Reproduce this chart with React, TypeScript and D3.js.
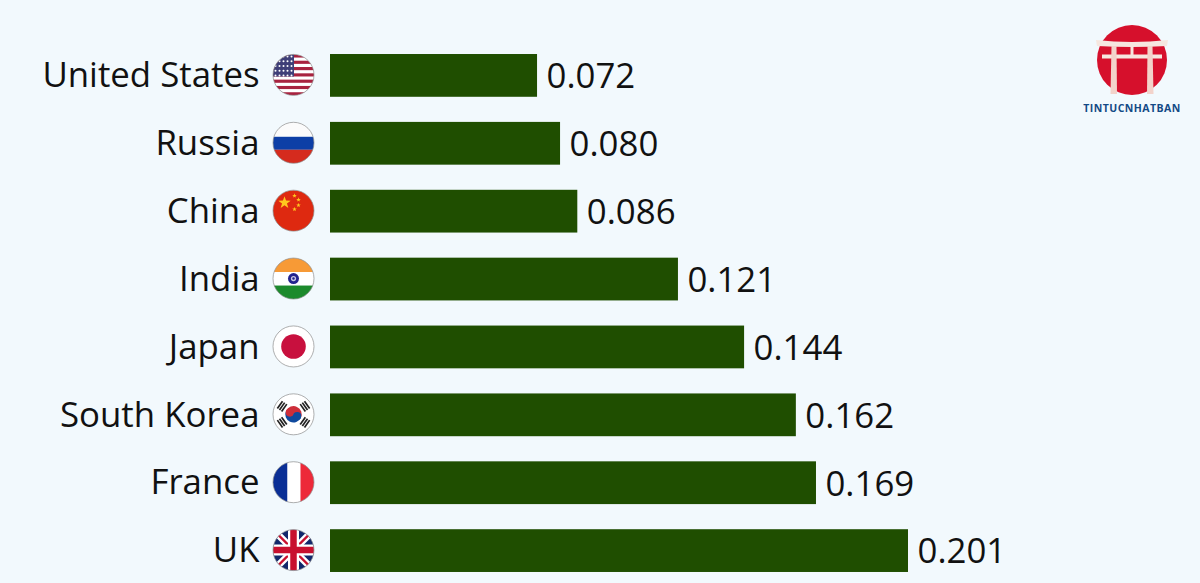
import React from 'react';
import * as d3 from 'd3';

const countries = ['United States', 'Russia', 'China', 'India', 'Japan', 'South Korea', 'France', 'UK'];
const values = [0.072, 0.08, 0.086, 0.121, 0.144, 0.162, 0.169, 0.201];
const flagCodes = ['us', 'ru', 'cn', 'in', 'jp', 'kr', 'fr', 'uk'];

const width = 1200;
const height = 583;
const barLeft = 330;
const flagR = 20.5;
const flagX = 293.5;
const step = 67.8;

const x = d3.scaleLinear().domain([0, 0.201]).range([barLeft, 908]);
const y = d3.scaleBand<string>().domain(countries).range([54 - 0.18 * step, 54 - 0.18 * step + step * 8]).paddingInner(0.37).paddingOuter(0.18);

const fmt = d3.format('.3f');
const FONT = '"Open Sans", sans-serif';

const star = (cx: number, cy: number, r: number, rot = 0) => {
  const pts: string[] = [];
  for (let i = 0; i < 10; i++) {
    const rad = i % 2 === 0 ? r : r * 0.4;
    const a = -Math.PI / 2 + rot + (i * Math.PI) / 5;
    pts.push(`${cx + rad * Math.cos(a)},${cy + rad * Math.sin(a)}`);
  }
  return pts.join(' ');
};

// flags are drawn in a box of -20.5..20.5 and clipped to a circle
const Flag: React.FC<{ code: string }> = ({ code }) => {
  const r = flagR;
  if (code === 'us') {
    const rows = d3.range(13);
    const sh = (2 * r) / 13;
    return (
      <g>
        <rect x={-r} y={-r} width={2 * r} height={2 * r} fill="#fff" />
        {rows.filter(i => i % 2 === 0).map(i => (
          <rect key={i} x={-r} y={-r + i * sh} width={2 * r} height={sh} fill="#a8223f" />
        ))}
        <rect x={-r} y={-r} width={21} height={7 * sh} fill="#3f3f78" />
        {d3.range(5).flatMap(a => d3.range(5).map(b => (
          <circle key={`${a}-${b}`} cx={-r + 2.5 + b * 4} cy={-r + 2 + a * 4.8} r={1} fill="#fff" />
        )))}
      </g>
    );
  }
  if (code === 'ru') {
    return (
      <g>
        <rect x={-r} y={-r} width={2 * r} height={14.5} fill="#fbfbfb" />
        <rect x={-r} y={-6} width={2 * r} height={13} fill="#0d3fa6" />
        <rect x={-r} y={7} width={2 * r} height={14} fill="#d52b1e" />
      </g>
    );
  }
  if (code === 'cn') {
    return (
      <g>
        <rect x={-r} y={-r} width={2 * r} height={2 * r} fill="#de2910" />
        <polygon points={star(-9, -8, 6.5)} fill="#ffc81e" />
        <polygon points={star(1, -15, 2.4)} fill="#ffc81e" />
        <polygon points={star(5, -11, 2.4)} fill="#ffc81e" />
        <polygon points={star(5, -5.5, 2.4)} fill="#ffc81e" />
        <polygon points={star(1, -1.5, 2.4)} fill="#ffc81e" />
      </g>
    );
  }
  if (code === 'in') {
    return (
      <g>
        <rect x={-r} y={-r} width={2 * r} height={14} fill="#f79a36" />
        <rect x={-r} y={-6.5} width={2 * r} height={13.5} fill="#fff" />
        <rect x={-r} y={7} width={2 * r} height={14} fill="#1c8a2c" />
        <circle r={5.5} fill="#23238e" />
        <circle r={2.6} fill="#fff" opacity={0.75} />
        <circle r={1.2} fill="#23238e" />
      </g>
    );
  }
  if (code === 'jp') {
    return (
      <g>
        <rect x={-r} y={-r} width={2 * r} height={2 * r} fill="#fff" />
        <circle r={12.3} fill="#c8103e" />
      </g>
    );
  }
  if (code === 'kr') {
    const angles = [-55, 55, 125, 235];
    return (
      <g>
        <rect x={-r} y={-r} width={2 * r} height={2 * r} fill="#fff" />
        <path d="M-8.2,0 A8.2,8.2 0 0 1 8.2,0 Z" fill="#cd2e3a" transform="rotate(25)" />
        <path d="M-8.2,0 A8.2,8.2 0 0 0 8.2,0 Z" fill="#0f4a9e" transform="rotate(25)" />
        <circle r={4.1} cx={-3.7} cy={-1.7} fill="#cd2e3a" />
        <circle r={4.1} cx={3.7} cy={1.7} fill="#0f4a9e" />
        {angles.map(a => (
          <g key={a} transform={`rotate(${a}) translate(0,-14)`} fill="#222">
            <rect x={-4.5} y={-3.4} width={9} height={1.7} />
            <rect x={-4.5} y={-0.8} width={9} height={1.7} />
            <rect x={-4.5} y={1.8} width={9} height={1.7} />
          </g>
        ))}
      </g>
    );
  }
  if (code === 'fr') {
    return (
      <g>
        <rect x={-r} y={-r} width={14.5} height={2 * r} fill="#0a2f96" />
        <rect x={-6} y={-r} width={13} height={2 * r} fill="#fff" />
        <rect x={7} y={-r} width={14} height={2 * r} fill="#ed2939" />
      </g>
    );
  }
  // uk
  return (
    <g>
      <rect x={-r} y={-r} width={2 * r} height={2 * r} fill="#12286b" />
      <path d={`M${-r},${-r}L${r},${r}M${r},${-r}L${-r},${r}`} stroke="#fff" strokeWidth={7} />
      <path d={`M${-r},${-r}L${r},${r}M${r},${-r}L${-r},${r}`} stroke="#c8102e" strokeWidth={2.4} />
      <path d={`M0,${-r}V${r}M${-r},0H${r}`} stroke="#fff" strokeWidth={11} />
      <path d={`M0,${-r}V${r}M${-r},0H${r}`} stroke="#c8102e" strokeWidth={6.5} />
    </g>
  );
};

const Logo: React.FC = () => (
  <g transform="translate(1132,25)">
    <circle cx={0} cy={35} r={35} fill="#d6102c" />
    <path d="M-36,15 Q0,19 36,15 L35,21 Q0,23 -35,21 Z" fill="#f6e7e0" />
    <rect x={-30} y={29.5} width={60} height={4} fill="#f6e7e0" />
    <path d="M-20.5,21 H-15.5 L-15,69 H-21.5 Z" fill="#f3d3cb" />
    <path d="M15.5,21 H20.5 L21.5,69 H15 Z" fill="#f3d3cb" />
    <rect x={-1.5} y={22} width={3} height={8} fill="#f6e7e0" />
    <text x={0} y={87} textAnchor="middle" fontFamily={FONT} fontWeight={700} fontSize={10.5} letterSpacing={0.45} fill="#134a86">TINTUCNHATBAN</text>
  </g>
);

export default function App() {
  return (
    <svg
      width={width}
      height={height}
      viewBox={`0 0 ${width} ${height}`}
      style={{ position: 'fixed', left: 0, top: 0, background: '#f2f9fd', display: 'block' }}
    >
      <defs>
        <clipPath id="flag-clip"><circle r={flagR} /></clipPath>
      </defs>
      {countries.map((c, i) => {
        const by = y(c)!;
        const bh = y.bandwidth();
        const cy = by + bh / 2;
        return (
          <g key={c}>
            <text x={259.5} y={cy} dy="0.07em" textAnchor="end" fontFamily={FONT} fontSize={34.8} fill="#111" dominantBaseline="middle">{c}</text>
            <g transform={`translate(${flagX},${cy - 0.5})`}>
              <g clipPath="url(#flag-clip)"><Flag code={flagCodes[i]} /></g>
              <circle r={flagR} fill="none" stroke="#8d8d8d" strokeWidth={0.7} />
            </g>
            <rect x={barLeft} y={by} width={x(values[i]) - barLeft} height={bh} fill="#1f4e00" />
            <text x={x(values[i]) + 9.5} y={cy} dy="0.1em" fontFamily={FONT} fontSize={34.8} fill="#111" dominantBaseline="middle">{fmt(values[i])}</text>
          </g>
        );
      })}
      <Logo />
    </svg>
  );
}
